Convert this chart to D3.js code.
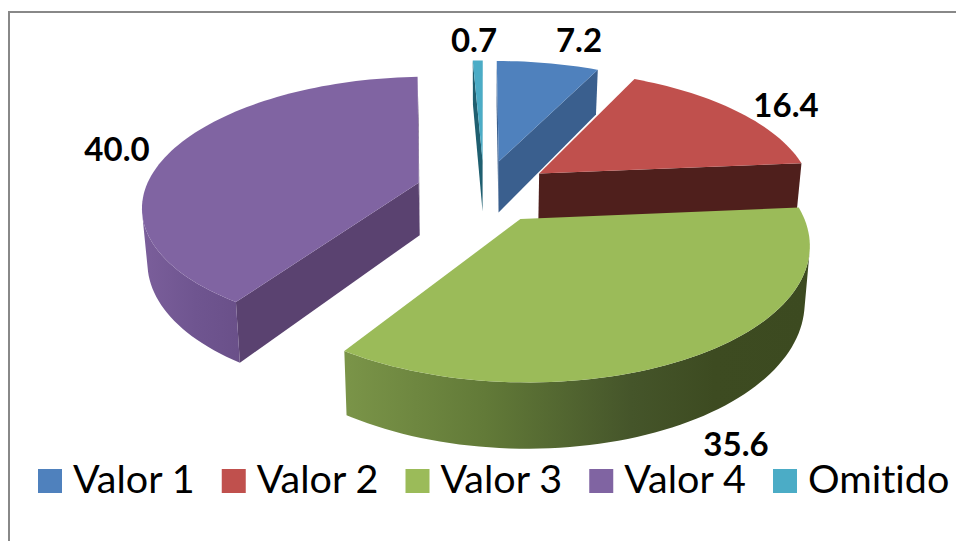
<!DOCTYPE html>
<html>
<head>
<meta charset="utf-8">
<script src="https://cdn.jsdelivr.net/npm/d3@7"></script>
<style>
html, body { margin: 0; padding: 0; background: #fff; overflow: hidden; }
svg { display: block; }
text { font-family: Lato, "Open Sans", sans-serif; fill: #000; font-variant-ligatures: none; }
</style>
</head>
<body>
<div id="chart"></div>
<script>
// Data
var categories = ["Valor 1", "Valor 2", "Valor 3", "Valor 4", "Omitido"];
var values = [7.2, 16.4, 35.6, 40.0, 0.7];
var valueLabels = ["7.2", "16.4", "35.6", "40.0", "0.7"];
var colors = ["#4f81bd", "#c0504d", "#9bbb59", "#8064a2", "#4bacc6"];
var cutColors = ["#3a5f8e", "#4f1f1c", "#4a5c28", "#5a4270", "#1f5f70"];
var labelPos = [[579, 52], [786, 117], [736, 456], [117, 161], [474, 52]];

var width = 956, height = 541;

var svg = d3.select("#chart").append("svg")
    .attr("width", width)
    .attr("height", height);

// Frame
svg.append("path")
    .attr("d", "M956,12H9V541")
    .attr("fill", "none")
    .attr("stroke", "#888")
    .attr("stroke-width", 2);

// Perspective settings for the tilted pie
var cx = 484, cy = 191, rw = 274, rh = 126, persp = 0.165, explode = 0.25, depth = 53, squeeze = 0.016;

function project(X, Y, low) {
    var s = 1 / (1 + persp * Y);
    var x = cx + rw * X * s, y = cy - rh * Y * s;
    if (low) {
        x = cx + (x - cx) * (1 - squeeze);
        y = y + depth * s;
    }
    return [x, y];
}

var line = d3.line();
var pie = d3.pie().sort(null).startAngle(0).endAngle(2 * Math.PI);
var arcs = pie(values);

// Wall gradients run left to right across the picture
var defs = svg.append("defs");

function wallGradient(id, x1, x2, stops) {
    var grad = defs.append("linearGradient")
        .attr("id", id)
        .attr("gradientUnits", "userSpaceOnUse")
        .attr("x1", x1).attr("y1", 0)
        .attr("x2", x2).attr("y2", 0);
    stops.forEach(function (s) {
        grad.append("stop").attr("offset", s[0]).attr("stop-color", s[1]);
    });
}

wallGradient("wall-green", 347, 806, [[0, "#7a9448"], [0.3, "#627a38"], [0.62, "#45552a"], [0.8, "#3d4b21"], [1, "#3c4a20"]]);
wallGradient("wall-purple", 145, 246, [[0, "#7a5e9a"], [0.5, "#6f5590"], [1, "#694f88"]]);

var wallFill = [null, null, "url(#wall-green)", "url(#wall-purple)", null];

function polar(d, a, r) {
    var mid = (d.startAngle + d.endAngle) / 2;
    return [explode * Math.sin(mid) + r * Math.sin(a), explode * Math.cos(mid) + r * Math.cos(a)];
}

// Back slices first, green last since it sits over the red wall
var order = [4, 0, 1, 3, 2];

order.forEach(function (i) {
    var d = arcs[i];
    var g = svg.append("g").attr("class", "slice");
    var apex = polar(d, 0, 0);
    var a0 = d.startAngle, a1 = d.endAngle;

    // Cut faces, only when they face the camera
    [a0, a1].forEach(function (a, k) {
        var o = polar(d, a, 1);
        var quad = [
            project(o[0], o[1], false),
            project(apex[0], apex[1], false),
            project(apex[0], apex[1], true),
            project(o[0], o[1], true)
        ];
        var facing = k === 0 ? d3.polygonArea(quad) < 0 : d3.polygonArea(quad) > 0;
        if (facing) {
            g.append("path")
                .attr("d", line(quad) + "Z")
                .attr("fill", cutColors[i]);
        }
    });

    // Outer wall, only the part of the arc facing the camera
    var steps = d3.range(a0, a1, 0.03).concat([a1]);
    var front = d3.pairs(steps).filter(function (pair) {
        var p = polar(d, pair[0], 1), q = polar(d, pair[1], 1);
        return d3.polygonArea([project(p[0], p[1], false), project(q[0], q[1], false), project(q[0], q[1], true), project(p[0], p[1], true)]) > 0;
    });
    if (front.length) {
        var angles = front.map(function (pair) { return pair[0]; }).concat([front[front.length - 1][1]]);
        var upper = angles.map(function (a) {
            var p = polar(d, a, 1);
            return project(p[0], p[1], false);
        });
        var lower = angles.slice().reverse().map(function (a) {
            var p = polar(d, a, 1);
            return project(p[0], p[1], true);
        });
        g.append("path")
            .attr("d", line(upper.concat(lower)) + "Z")
            .attr("fill", wallFill[i] || cutColors[i]);
    }

    // Top face
    var top = [project(apex[0], apex[1], false)].concat(steps.map(function (a) {
        var p = polar(d, a, 1);
        return project(p[0], p[1], false);
    }));
    g.append("path")
        .attr("d", line(top) + "Z")
        .attr("fill", colors[i]);
});

// Value labels
svg.selectAll("text.value")
    .data(valueLabels)
    .enter()
    .append("text")
    .attr("class", "value")
    .attr("x", function (d, i) { return labelPos[i][0]; })
    .attr("y", function (d, i) { return labelPos[i][1]; })
    .attr("text-anchor", "middle")
    .attr("font-size", 33)
    .attr("font-weight", 700)
    .text(function (d) { return d; });

// Legend
var legendX = d3.scaleLinear().domain([0, 4]).range([38, 773]);

var legend = svg.selectAll("g.legend")
    .data(categories)
    .enter()
    .append("g")
    .attr("class", "legend")
    .attr("transform", function (d, i) { return "translate(" + legendX(i) + ",469)"; });

legend.append("rect")
    .attr("width", 24)
    .attr("height", 24)
    .attr("fill", function (d, i) { return colors[i]; });

legend.append("text")
    .attr("x", 35)
    .attr("y", 24)
    .attr("font-size", 39.5)
    .text(function (d) { return d; });
</script>
</body>
</html>
